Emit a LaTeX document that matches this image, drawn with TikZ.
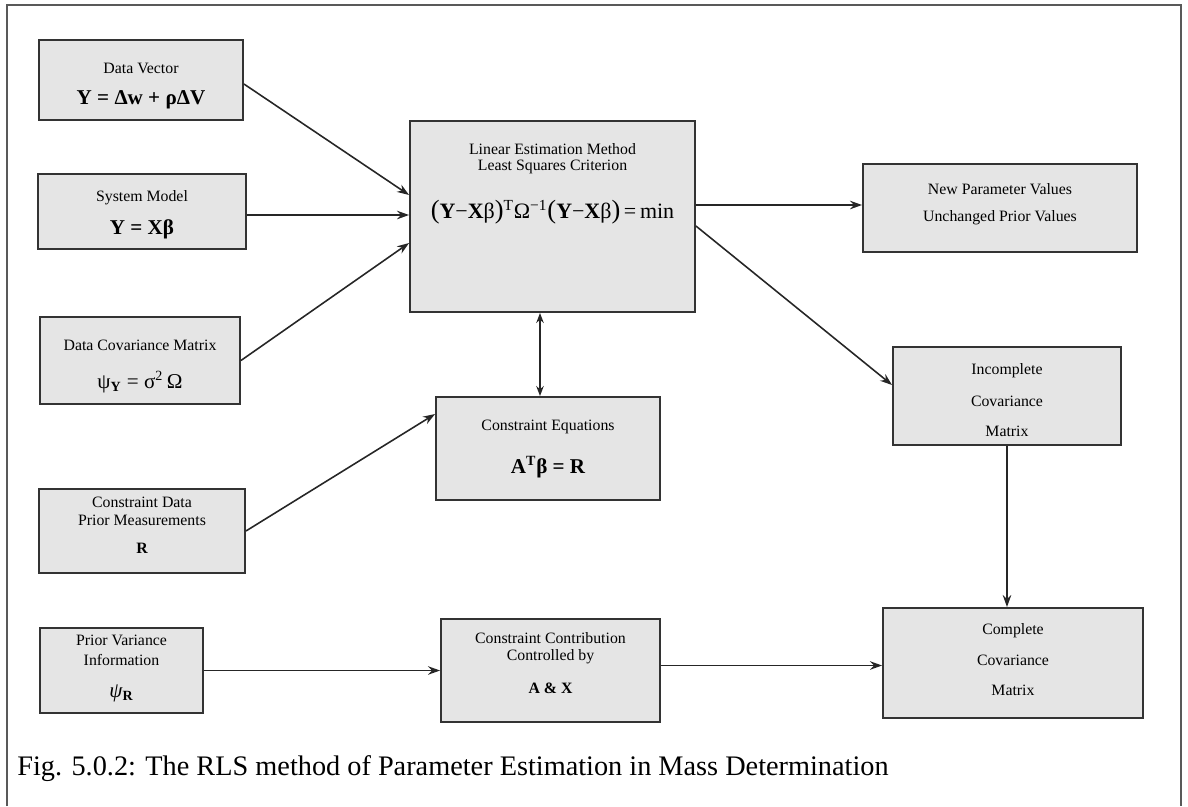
\documentclass[tikz,border=0pt]{standalone}
\usepackage{fontspec}
\setmainfont{Liberation Serif}
\usetikzlibrary{arrows.meta}
\begin{document}
\begin{tikzpicture}[x=0.02cm, y=-0.02cm,
  blockbox/.style={draw=black!80, line width=1.1pt, fill=black!10, inner sep=0pt},
  lbl/.style={font=\fontsize{9}{10}\selectfont, align=center, inner sep=0pt},
  eqn/.style={font=\fontsize{12}{14}\selectfont\bfseries, inner sep=0pt},
  link/.style={line width=0.9pt, draw=black!85, -{Stealth[length=0.24cm, width=0.17cm]}},
  both/.style={line width=0.9pt, draw=black!85, {Stealth[length=0.2cm, width=0.15cm]}-{Stealth[length=0.2cm, width=0.15cm]}}]
\useasboundingbox (0,0) rectangle (1188,806);
% outer frame
\draw[black!65, line width=0.8pt] (7,806) -- (7,5) -- (1181,5) -- (1181,806);

% input boxes (left column)
\node[blockbox, minimum width=4.08cm, minimum height=1.60cm] (dv) at (141,80) {};
\node[blockbox, minimum width=4.16cm, minimum height=1.50cm] (sm) at (142,211.5) {};
\node[blockbox, minimum width=4.00cm, minimum height=1.74cm] (dc) at (140,360.5) {};
\node[blockbox, minimum width=4.12cm, minimum height=1.68cm] (cd) at (142,531) {};
\node[blockbox, minimum width=3.26cm, minimum height=1.70cm] (pv) at (121.5,670.5) {};
% centre column
\node[blockbox, minimum width=5.70cm, minimum height=3.82cm] (lin) at (552.5,216.5) {};
\node[blockbox, minimum width=4.48cm, minimum height=2.06cm] (ce) at (548,448.5) {};
\node[blockbox, minimum width=4.38cm, minimum height=2.06cm] (cc) at (550.5,670.5) {};
% output column
\node[blockbox, minimum width=5.48cm, minimum height=1.76cm] (np) at (1000,208) {};
\node[blockbox, minimum width=4.56cm, minimum height=1.96cm] (ic) at (1007,396) {};
\node[blockbox, minimum width=5.20cm, minimum height=2.20cm] (cv) at (1013,663) {};

% texts
\node[lbl] (dvA) at (141,68) {Data Vector};
\node[eqn] (dvB) at (141,100) {Y = Δw + ρΔV};
\node[lbl] (smA) at (142,198) {System Model};
\node[eqn] (smB) at (142,229) {Y = Xβ};
\node[lbl] (dcA) at (140,345) {Data Covariance Matrix};
\node[eqn, font=\fontsize{12}{14}\selectfont] (dcB) at (140,382) {ψ\textsubscript{\bfseries Y} = σ\textsuperscript{2}\,Ω};
\node[lbl, font=\fontsize{9}{10.2}\selectfont] (cdA) at (142,511) {Constraint Data\\Prior Measurements};
\node[lbl, font=\fontsize{9}{10}\selectfont\bfseries] (cdB) at (142,548) {R};
\node[lbl, font=\fontsize{9}{11.3}\selectfont] (pvA) at (121.5,650) {Prior Variance\\Information};
\node[eqn, font=\fontsize{12}{14}\selectfont] (pvB) at (121.5,693) {\textit{ψ}\textsubscript{\bfseries R}};

\node[lbl, font=\fontsize{9}{8.8}\selectfont] (linA) at (552.5,158.5) {Linear Estimation Method\\Least Squares Criterion};
\node[eqn, font=\fontsize{12.5}{15}\selectfont] (linB) at (552.5,212)
  {{\fontsize{15}{15}\selectfont(}\textbf{Y}−\textbf{X}β{\fontsize{15}{15}\selectfont)}\textsuperscript{T}Ω\textsuperscript{−1}{\fontsize{15}{15}\selectfont(}\textbf{Y}−\textbf{X}β{\fontsize{15}{15}\selectfont)}\,=\,min};
\node[lbl] (ceA) at (548,427) {Constraint Equations};
\node[eqn] (ceB) at (548,467) {A\textsuperscript{T}β = R};
\node[lbl, font=\fontsize{9}{9.8}\selectfont] (ccA) at (550.5,648.5) {Constraint Contribution\\Controlled by};
\node[lbl, font=\fontsize{9}{10}\selectfont\bfseries] (ccB) at (550.5,688) {A \& X};

\node[lbl] (npA) at (1000,189) {New Parameter Values};
\node[lbl] (npB) at (1000,218) {Unchanged Prior Values};
\node[lbl] (icA) at (1007,371) {Incomplete};
\node[lbl] (icB) at (1007,401) {Covariance};
\node[lbl] (icC) at (1007,431) {Matrix};
\node[lbl] (cvA) at (1013,631) {Complete};
\node[lbl] (cvB) at (1013,660) {Covariance};
\node[lbl] (cvC) at (1013,690) {Matrix};

% connectors
\draw[link] ([yshift=-0.08cm]dv.east) -- ([yshift=0.43cm]lin.west);
\draw[link] ([yshift=-0.07cm]sm.east) -- ([yshift=-0.07cm]lin.west |- sm.east);
\draw[link] (dc.east) -- ([yshift=-0.53cm]lin.west);
\draw[link] (cd.east) -- ([yshift=0.69cm]ce.west);
\draw[both] ([xshift=-0.25cm]lin.south) -- ([xshift=-0.16cm]ce.north);
\draw[link] ([yshift=0.23cm]lin.east) -- ([yshift=0.06cm]np.west);
\draw[link] ([yshift=-0.19cm]lin.east) -- ([yshift=0.22cm]ic.west);
\draw[link] (ic.south) -- (ic.south |- cv.north);
\draw[link] (pv.east) -- (cc.west |- pv.east);
\draw[link] ([yshift=0.1cm]cc.east) -- ([yshift=0.1cm]cv.west |- cc.east);

% caption
\node[anchor=west, inner sep=0pt, font=\fontsize{16.1}{19}\selectfont] (cap) at (17,769)
  {Fig. 5.0.2: The RLS method of Parameter Estimation in Mass Determination};
\end{tikzpicture}
\end{document}
